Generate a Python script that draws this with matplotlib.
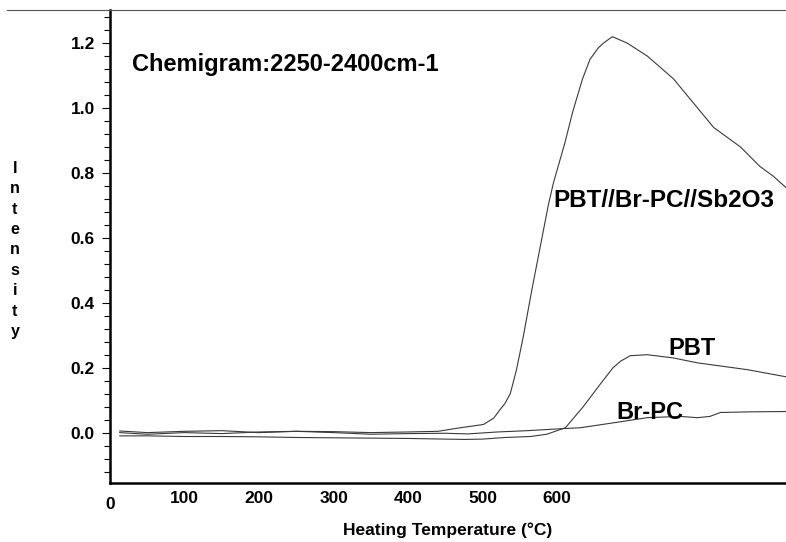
import numpy as np
import matplotlib.pyplot as plt
import matplotlib.transforms as mtransforms
from matplotlib.ticker import MultipleLocator, FixedLocator

plt.rcParams['font.family'] = ['Liberation Sans', 'DejaVu Sans']
plt.rcParams['font.weight'] = 'bold'

# heating temperature (deg C) and intensity
temp_sb = [13, 50, 100, 150, 200, 250, 300, 350, 400, 440, 470, 501, 515, 523, 530, 537,
           545, 554, 566, 577, 588, 595, 610, 621, 634, 644, 655, 662, 674, 694, 721, 756,
           783, 810, 846, 872, 890, 907]
int_sb = [0.005, 0.0, 0.004, 0.006, 0.0, 0.004, 0.003, 0.0, 0.002, 0.004, 0.015, 0.025,
          0.045, 0.07, 0.09, 0.12, 0.19, 0.29, 0.44, 0.57, 0.70, 0.77, 0.89, 0.99, 1.09, 1.15,
          1.185, 1.20, 1.22, 1.20, 1.16, 1.09, 1.015, 0.94, 0.88, 0.82, 0.79, 0.755]

temp_pbt = [13, 50, 100, 150, 200, 250, 300, 350, 400, 450, 476, 500, 530, 564, 586, 611,
            635, 658, 675, 685, 698, 721, 756, 788, 855, 907]
int_pbt = [-0.01, -0.01, -0.012, -0.012, -0.013, -0.015, -0.016, -0.017, -0.018, -0.02,
           -0.021, -0.02, -0.015, -0.012, -0.005, 0.015, 0.08, 0.15, 0.2, 0.22, 0.237, 0.24,
           0.23, 0.215, 0.194, 0.172]

temp_brpc = [13, 50, 100, 150, 200, 250, 300, 350, 400, 450, 480, 520, 560, 605, 631, 675,
             721, 765, 788, 805, 819, 860, 907]
int_brpc = [0.0, -0.005, 0.0, -0.003, 0.002, 0.004, 0.0, -0.005, -0.003, -0.002, -0.004,
            0.002, 0.006, 0.012, 0.015, 0.03, 0.046, 0.05, 0.046, 0.05, 0.062, 0.064, 0.065]

x_ticks = [0, 100, 200, 300, 400, 500, 600]
y_ticks = [0.0, 0.2, 0.4, 0.6, 0.8, 1.0, 1.2]

fig = plt.figure(figsize=(7.86, 5.42), dpi=100)
ax = fig.add_axes([0.140, 0.109, 0.860, 0.8725])

line_kw = dict(color='#3a3a3a', lw=0.8)
ax.plot(temp_sb, int_sb, **line_kw)
ax.plot(temp_pbt, int_pbt, **line_kw)
ax.plot(temp_brpc, int_brpc, **line_kw)

ax.set_xlim(0, 907)
ax.set_ylim(-0.155, 1.302)

ax.spines['right'].set_visible(False)
ax.spines['top'].set_visible(False)
ax.spines['left'].set_linewidth(1.8)
ax.spines['bottom'].set_linewidth(1.8)

ax.xaxis.set_major_locator(FixedLocator(x_ticks))
ax.set_xticklabels([str(t) for t in x_ticks])
ax.tick_params(axis='x', length=0, pad=6, labelsize=12.5)
ax.yaxis.set_major_locator(FixedLocator(y_ticks))
ax.set_yticklabels(['%.1f' % t for t in y_ticks])
ax.yaxis.set_minor_locator(MultipleLocator(0.04))
ax.tick_params(axis='y', which='major', length=6, width=0.8, labelsize=12.5, pad=5)
ax.tick_params(axis='y', which='minor', length=4, width=0.8)

# the "0" label sits a little lower than the others
zero_lbl = ax.get_xticklabels()[0]
zero_lbl.set_transform(zero_lbl.get_transform() +
                       mtransforms.ScaledTranslation(0, -6 / 100, fig.dpi_scale_trans))

# thin top border line
fig.add_artist(plt.Line2D([0.009, 1.0], [0.9815, 0.9815], color='#555555', lw=0.8))

ax.text(30, 1.135, 'Chemigram:2250-2400cm-1', fontsize=17, fontweight='bold', va='center')
ax.text(743, 0.715, 'PBT//Br-PC//Sb2O3', fontsize=17.5, fontweight='bold', ha='center', va='center')
ax.text(781, 0.258, 'PBT', fontsize=17, fontweight='bold', ha='center', va='center')
ax.text(725, 0.062, 'Br-PC', fontsize=17, fontweight='bold', ha='center', va='center')

ax.set_xlabel('Heating Temperature (°C)', fontsize=12.5, fontweight='bold', labelpad=7)
fig.text(0.019, 0.539, '\n'.join('Intensity'), fontsize=11.5, fontweight='bold',
         ha='center', va='center', linespacing=1.45)

fig.savefig('out.png', dpi=100)
